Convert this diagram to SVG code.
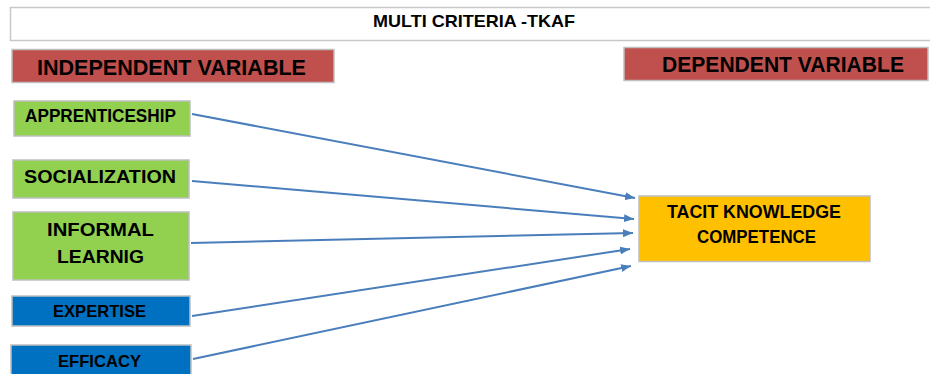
<svg xmlns="http://www.w3.org/2000/svg" width="930" height="374" viewBox="0 0 930 374">
<style>
.box{stroke:#BFBFBF;stroke-width:1.5}
.t{font-family:"Liberation Sans",Arial,sans-serif;font-weight:bold;fill:#000;text-anchor:middle}
.green{fill:#92D050}
.blue{fill:#0070C0}
.red{fill:#C0504D}
.conn{stroke:#4A7EBB;stroke-width:2;fill:none;marker-end:url(#arr)}
</style>
<defs>
<marker id="arr" markerUnits="userSpaceOnUse" markerWidth="11" markerHeight="8" refX="10" refY="4" orient="auto">
<path d="M0,0 L10,4 L0,8 Z" fill="#4A7EBB"/>
</marker>
</defs>
<rect width="930" height="374" fill="#FFFFFF"/>
<g id="title">
<rect x="10.5" y="7.5" width="930" height="33" fill="#FFFFFF" stroke="#C8C8C8" stroke-width="1.5"/>
<text class="t" x="474" y="27" font-size="17" textLength="202" lengthAdjust="spacingAndGlyphs">MULTI CRITERIA -TKAF</text>
</g>
<g id="independent-variable">
<rect class="box red" x="12" y="49.5" width="322" height="33"/>
<text class="t" x="171.5" y="75" font-size="22" textLength="269" lengthAdjust="spacingAndGlyphs">INDEPENDENT VARIABLE</text>
</g>
<g id="dependent-variable">
<rect class="box red" x="624" y="47.5" width="304" height="33"/>
<text class="t" x="783" y="72" font-size="22" textLength="242" lengthAdjust="spacingAndGlyphs">DEPENDENT VARIABLE</text>
</g>
<g id="apprenticeship">
<rect class="box green" x="14" y="101" width="176" height="35"/>
<text class="t" x="100.5" y="122" font-size="18" textLength="151" lengthAdjust="spacingAndGlyphs">APPRENTICESHIP</text>
</g>
<g id="socialization">
<rect class="box green" x="13" y="160" width="176" height="38"/>
<text class="t" x="100" y="183" font-size="18.5" textLength="152" lengthAdjust="spacingAndGlyphs">SOCIALIZATION</text>
</g>
<g id="informal-learnig">
<rect class="box green" x="13" y="212" width="176" height="68"/>
<text class="t" x="100.5" y="236" font-size="18.5" textLength="107" lengthAdjust="spacingAndGlyphs">INFORMAL</text>
<text class="t" x="100.5" y="263" font-size="18.5" textLength="87" lengthAdjust="spacingAndGlyphs">LEARNIG</text>
</g>
<g id="expertise">
<rect class="box blue" x="12" y="296" width="178" height="30"/>
<text class="t" x="99.5" y="317" font-size="17" textLength="93" lengthAdjust="spacingAndGlyphs">EXPERTISE</text>
</g>
<g id="efficacy">
<rect class="box blue" x="11" y="345" width="180" height="40"/>
<text class="t" x="99.5" y="367" font-size="17" textLength="83" lengthAdjust="spacingAndGlyphs">EFFICACY</text>
</g>
<g id="tacit-knowledge-competence">
<rect class="box" fill="#FFC000" x="639" y="196" width="231" height="65.5"/>
<text class="t" x="754" y="218" font-size="18" textLength="174" lengthAdjust="spacingAndGlyphs">TACIT KNOWLEDGE</text>
<text class="t" x="756.5" y="243" font-size="18" textLength="119" lengthAdjust="spacingAndGlyphs">COMPETENCE</text>
</g>
<g id="connectors">
<line class="conn" x1="192" y1="114" x2="635" y2="198"/>
<line class="conn" x1="192" y1="181" x2="634" y2="219"/>
<line class="conn" x1="191" y1="243" x2="633" y2="233"/>
<line class="conn" x1="192" y1="316" x2="630" y2="249"/>
<line class="conn" x1="193" y1="359" x2="631" y2="266"/>
</g>
</svg>
